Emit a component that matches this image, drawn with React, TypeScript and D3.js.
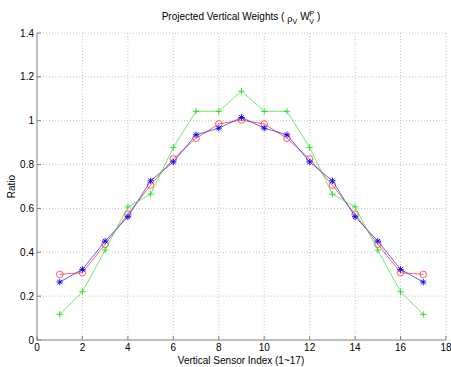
import React from "react";
import * as d3 from "d3";

const sensorIndex = [1, 2, 3, 4, 5, 6, 7, 8, 9, 10, 11, 12, 13, 14, 15, 16, 17];
const blueValues = [0.264, 0.322, 0.451, 0.562, 0.726, 0.812, 0.936, 0.966, 1.015, 0.966, 0.936, 0.812, 0.726, 0.562, 0.451, 0.322, 0.264];
const redValues = [0.299, 0.307, 0.437, 0.573, 0.706, 0.826, 0.92, 0.985, 1.003, 0.985, 0.92, 0.826, 0.706, 0.573, 0.437, 0.307, 0.299];
const greenValues = [0.117, 0.22, 0.41, 0.607, 0.665, 0.878, 1.043, 1.043, 1.135, 1.043, 1.043, 0.878, 0.665, 0.607, 0.41, 0.22, 0.117];
const xTicks = [0, 2, 4, 6, 8, 10, 12, 14, 16, 18];
const yTicks = [0, 0.2, 0.4, 0.6, 0.8, 1, 1.2, 1.4];

const W = 451;
const H = 367;
const left = 37;
const right = 446;
const top = 33;
const bottom = 340;
const FONT = "'Liberation Sans', Arial, Helvetica, sans-serif";

export default function App() {
  const x = d3.scaleLinear().domain([0, 18]).range([left, right]);
  const y = d3.scaleLinear().domain([0, 1.4]).range([bottom, top]);
  const line = d3
    .line<number>()
    .x((_, i) => x(sensorIndex[i]))
    .y((v) => y(v));

  const star = (cx: number, cy: number, color: string, key: number) => {
    const r = 3.2;
    const d = r * 0.72;
    return (
      <g key={key} stroke={color} strokeWidth={0.9}>
        <line x1={cx - r} y1={cy} x2={cx + r} y2={cy} />
        <line x1={cx} y1={cy - r} x2={cx} y2={cy + r} />
        <line x1={cx - d} y1={cy - d} x2={cx + d} y2={cy + d} />
        <line x1={cx - d} y1={cy + d} x2={cx + d} y2={cy - d} />
      </g>
    );
  };
  const plus = (cx: number, cy: number, color: string, key: number) => {
    const r = 3.2;
    return (
      <g key={key} stroke={color} strokeWidth={0.9}>
        <line x1={cx - r} y1={cy} x2={cx + r} y2={cy} />
        <line x1={cx} y1={cy - r} x2={cx} y2={cy + r} />
      </g>
    );
  };

  return (
    <svg
      width={W}
      height={H}
      style={{ position: "absolute", left: 0, top: 0, background: "#fff" }}
      fontFamily={FONT}
    >
      {/* grid */}
      <g stroke="#b8b8b8" strokeWidth={0.8} strokeDasharray="1,2">
        {xTicks.slice(1).map((t) => (
          <line key={"gx" + t} x1={x(t)} x2={x(t)} y1={top} y2={bottom} />
        ))}
        {yTicks.slice(1).map((t) => (
          <line key={"gy" + t} x1={left} x2={right} y1={y(t)} y2={y(t)} />
        ))}
      </g>

      {/* axes */}
      <g stroke="#808080" strokeWidth={1}>
        <line x1={left} x2={left} y1={top} y2={bottom + 0.5} />
        <line x1={left} x2={right} y1={bottom} y2={bottom} />
        {xTicks.map((t) => (
          <line key={"tx" + t} x1={x(t)} x2={x(t)} y1={bottom} y2={bottom - 4} />
        ))}
        {yTicks.map((t) => (
          <line key={"ty" + t} x1={left} x2={left + 4} y1={y(t)} y2={y(t)} />
        ))}
      </g>

      {/* tick labels */}
      <g fontSize={10} fill="#000">
        {xTicks.map((t) => (
          <text key={"lx" + t} x={x(t)} y={bottom + 11} textAnchor="middle">
            {t}
          </text>
        ))}
        {yTicks.map((t) => (
          <text key={"ly" + t} x={left - 3} y={y(t) + 3.5} textAnchor="end">
            {t}
          </text>
        ))}
      </g>

      {/* series */}
      <path d={line(redValues) ?? ""} fill="none" stroke="#ff2020" strokeWidth={0.7} />
      {redValues.map((v, i) => (
        <circle key={"r" + i} cx={x(sensorIndex[i])} cy={y(v)} r={3.3} fill="none" stroke="#ff2020" strokeWidth={0.7} />
      ))}
      <path d={line(blueValues) ?? ""} fill="none" stroke="#2020ff" strokeWidth={0.7} />
      {blueValues.map((v, i) => star(x(sensorIndex[i]), y(v), "#0000ff", i))}
      <path d={line(greenValues) ?? ""} fill="none" stroke="#30e030" strokeWidth={0.7} />
      {greenValues.map((v, i) => plus(x(sensorIndex[i]), y(v), "#20d820", i))}

      {/* title */}
      <text x={241} y={20} fontSize={10} textAnchor="middle" fill="#000">
        Projected Vertical Weights (
        <tspan dx={3} fontSize={9} dy={2}>ρ</tspan>
        <tspan fontSize={7} dy={2}>V</tspan>
        <tspan dx={3} fontSize={10} dy={-4}>W</tspan>
        <tspan fontSize={7} dy={-4}>P</tspan>
        <tspan fontSize={7} dx={-5} dy={8}>V</tspan>
        <tspan fontSize={10} dx={3} dy={-4}>)</tspan>
      </text>

      {/* axis labels */}
      <text x={241} y={363.5} fontSize={10} textAnchor="middle" fill="#000">
        Vertical Sensor Index (1~17)
      </text>
      <text
        transform={`translate(15, ${(top + bottom) / 2}) rotate(-90)`}
        fontSize={10}
        textAnchor="middle"
        fill="#000"
      >
        Ratio
      </text>
    </svg>
  );
}
